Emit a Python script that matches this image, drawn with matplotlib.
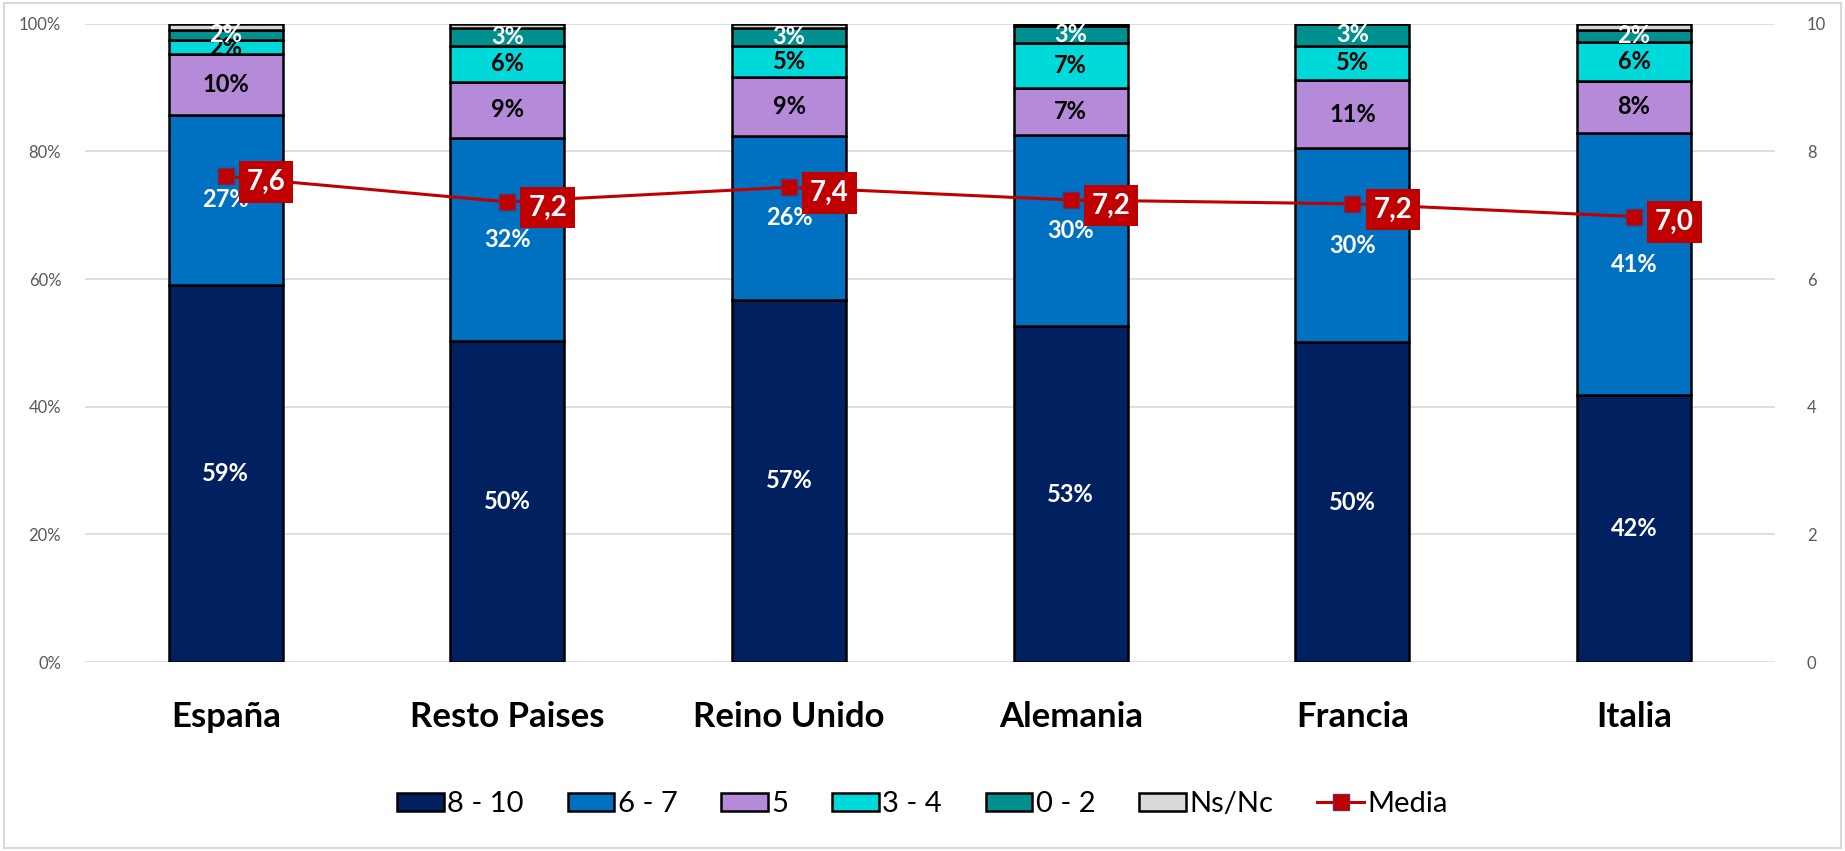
import numpy as np
import matplotlib
matplotlib.use("Agg")
import matplotlib.pyplot as plt
from matplotlib.patches import Rectangle
from matplotlib.lines import Line2D

# Datos (porcentajes por tramo de puntuación y media)
categorias = ["España", "Resto Paises", "Reino Unido", "Alemania", "Francia", "Italia"]
s8_10 = [59.1, 50.3, 56.8, 52.6, 50.1, 41.8]
s6_7 = [26.6, 31.8, 25.6, 30.0, 30.4, 41.1]
s5 = [9.5, 8.8, 9.2, 7.4, 10.7, 8.2]
s3_4 = [2.2, 5.7, 5.0, 7.0, 5.4, 6.0]
s0_2 = [1.7, 2.7, 2.7, 2.6, 3.3, 2.0]
ns_nc = [0.9, 0.7, 0.7, 0.4, 0.1, 0.9]
media = [7.61, 7.21, 7.44, 7.24, 7.18, 6.98]

series = [
    ("8 - 10", s8_10, "#002060", "white"),
    ("6 - 7", s6_7, "#0070C0", "white"),
    ("5", s5, "#B48AD9", "black"),
    ("3 - 4", s3_4, "#00D9D9", "black"),
    ("0 - 2", s0_2, "#009090", "white"),
    ("Ns/Nc", ns_nc, "#D9D9D9", None),
]

plt.rcParams["font.family"] = ["Lato", "DejaVu Sans"]

fig = plt.figure(figsize=(18.45, 8.51), dpi=100)
ax = fig.add_axes([0.046, 0.222, 0.916, 0.750])

x = np.arange(len(categorias))
width = 0.405
bottom = np.zeros(len(categorias))
for nombre, vals, color, tcolor in series:
    vals = np.array(vals)
    ax.bar(x, vals, width, bottom=bottom, color=color, edgecolor="black",
           linewidth=1.8, zorder=2)
    if tcolor is not None:
        for xi, b, v in zip(x, bottom, vals):
            ax.text(xi, b + v / 2, f"{v:.0f}%", ha="center", va="center",
                    color=tcolor, fontsize=17, fontweight="bold", zorder=4)
    bottom += vals

ax.set_xlim(-0.5, len(categorias) - 0.5)
ax.set_ylim(0, 100)
ax.set_yticks(range(0, 101, 20))
ax.set_yticklabels([f"{v}%" for v in range(0, 101, 20)])
ax.set_xticks(x)
ax.set_xticklabels(categorias, fontsize=25, fontweight="bold")
ax.tick_params(axis="x", length=0, pad=28)
ax.tick_params(axis="y", length=0, pad=17, labelsize=12, labelcolor="#595959")
ax.grid(axis="y", color="#D9D9D9", linewidth=1.2, zorder=0)
ax.set_axisbelow(True)
for s in ax.spines.values():
    s.set_visible(False)

# Eje secundario: media
ax2 = ax.twinx()
ax2.set_ylim(0, 10)
ax2.set_yticks(range(0, 11, 2))
ax2.tick_params(axis="y", length=0, pad=23, labelsize=12, labelcolor="#595959")
for s in ax2.spines.values():
    s.set_visible(False)
ax2.plot(x, media, color="#C00000", linewidth=2.2, marker="s", markersize=12,
         markerfacecolor="#C00000", markeredgecolor="#6B2C5A", zorder=5)
for xi, m in zip(x, media):
    ax2.annotate(f"{m:.1f}".replace(".", ","), (xi, m), xytext=(29, -4),
                 textcoords="offset points", ha="center", va="center",
                 color="white", fontsize=20, fontweight="bold", zorder=6,
                 bbox=dict(boxstyle="square,pad=0.28", fc="#C00000", ec="none"))

# Leyenda
handles = [Rectangle((0, 0), 1, 1, facecolor=c, edgecolor="black", linewidth=1.8)
           for _, _, c, _ in series]
handles.append(Line2D([], [], color="#C00000", linewidth=2.2, marker="s", markersize=12,
                      markerfacecolor="#C00000", markeredgecolor="#6B2C5A"))
labels = [n for n, _, _, _ in series] + ["Media"]
fig.legend(handles, labels, loc="center", bbox_to_anchor=(0.5, 0.055), ncol=7,
           frameon=False, fontsize=21, handlelength=1.6, handleheight=0.6,
           handletextpad=0.12, columnspacing=1.5)

# Borde del gráfico
fig.patches.append(Rectangle((0.002, 0.003), 0.996, 0.994, transform=fig.transFigure,
                             fill=False, edgecolor="#D9D9D9", linewidth=1.5))

fig.savefig("out.png", dpi=100)
